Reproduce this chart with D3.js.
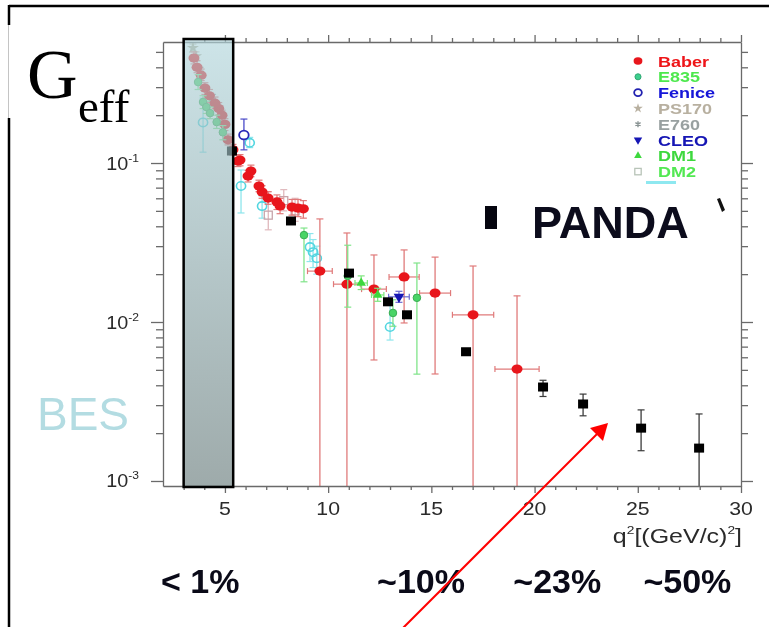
<!DOCTYPE html>
<html>
<head>
<meta charset="utf-8">
<script src="https://d3js.org/d3.v7.min.js"></script>
<style>
  html, body { margin: 0; padding: 0; background: #fff; }
  svg { display: block; }
  text { font-family: "Liberation Sans", Arial, Helvetica, sans-serif; }
</style>
</head>
<body>
<svg id="chart" width="769" height="627"></svg>
<script>
// ---------------- data ----------------
const xMajorTicks = [5, 10, 15, 20, 25, 30];
const yMajorTicks = [0.001, 0.01, 0.1];
const yTickExponents = ["-3", "-2", "-1"];

// BaBar
const babarQ2 = [3.50, 3.65, 3.85, 4.03, 4.25, 4.52, 4.70, 4.86, 5.00, 5.15, 5.39, 5.63, 5.73, 6.12, 6.26,
                 6.65, 6.80, 7.09, 7.52, 7.67, 8.25, 8.54, 8.80, 9.60, 10.91, 12.22, 13.68, 15.18, 17.02, 19.15];
const babarG  = [0.457, 0.400, 0.357, 0.296, 0.265, 0.238, 0.220, 0.200, 0.175, 0.140, 0.121, 0.103, 0.1044, 0.0828, 0.0890,
                 0.0717, 0.0657, 0.0602, 0.0569, 0.0537, 0.0528, 0.0521, 0.0515, 0.0209, 0.0173, 0.0161, 0.0192, 0.0152, 0.0111, 0.00506];
const babarLo = [0.42, 0.37, 0.33, 0.27, 0.24, 0.22, 0.20, 0.185, 0.16, 0.13, 0.112, 0.095, 0.096, 0.076, 0.082,
                 0.066, 0.060, 0.055, 0.051, 0.048, 0.047, 0.046, 0.045, 0.0005, 0.0005, 0.00577, 0.00986, 0.00471, 0.0005, 0.0005];
const babarHi = [0.50, 0.44, 0.39, 0.32, 0.29, 0.26, 0.24, 0.215, 0.19, 0.152, 0.131, 0.112, 0.113, 0.090, 0.097,
                 0.078, 0.072, 0.066, 0.063, 0.060, 0.059, 0.059, 0.058, 0.0445, 0.0363, 0.0264, 0.0284, 0.0256, 0.0225, 0.0146];
const babarDq = [0.08, 0.08, 0.08, 0.08, 0.08, 0.08, 0.08, 0.08, 0.08, 0.08, 0.08, 0.10, 0.10, 0.10, 0.10,
                 0.10, 0.10, 0.10, 0.15, 0.15, 0.15, 0.15, 0.15, 0.60, 0.65, 0.60, 0.73, 0.75, 1.00, 1.07];

// E835
const e835Q2 = [3.70, 3.94, 4.10, 4.28, 4.60, 4.90, 8.83, 10.95, 13.14, 14.30];
const e835G  = [0.323, 0.242, 0.225, 0.206, 0.181, 0.156, 0.0352, 0.0195, 0.0114, 0.0142];
const e835Lo = [0.29, 0.22, 0.205, 0.19, 0.165, 0.14, 0.0179, 0.0124, 0.0094, 0.0047];
const e835Hi = [0.36, 0.265, 0.245, 0.225, 0.20, 0.172, 0.039, 0.0304, 0.0138, 0.0235];

// further time-like measurements (cyan open circles)
const cyanQ2 = [3.94, 5.78, 6.20, 6.80, 9.12, 9.27, 9.45, 13.00];
const cyanG  = [0.180, 0.0717, 0.134, 0.0536, 0.0296, 0.0275, 0.0252, 0.0093];
const cyanLo = [0.117, 0.0485, 0.125, 0.045, 0.024, 0.022, 0.020, 0.0077];
const cyanHi = [0.256, 0.0904, 0.145, 0.062, 0.036, 0.033, 0.030, 0.0137];

// Fenice
const feniceQ2 = [5.92];
const feniceG  = [0.150];
const feniceLo = [0.121];
const feniceHi = [0.189];

// PS170
const ps170Q2 = [3.45, 3.60];
const ps170G  = [0.53, 0.47];
const ps170Lo = [0.50, 0.44];
const ps170Hi = [0.56, 0.50];

// E760
const e760Q2 = [3.80, 4.40];
const e760G  = [0.37, 0.25];
const e760Lo = [0.34, 0.23];
const e760Hi = [0.40, 0.27];

// CLEO
const cleoQ2 = [13.43];
const cleoG  = [0.0144];
const cleoLo = [0.0133];
const cleoHi = [0.0156];
const cleoDq = [0.5];

// DM1
const dm1Q2 = [11.60, 12.40];
const dm1G  = [0.0176, 0.0148];
const dm1Lo = [0.0160, 0.0135];
const dm1Hi = [0.0195, 0.0163];
const dm1Dq = [0.3, 0.3];

// DM2
const dm2Q2 = [7.10, 7.85, 8.40];
const dm2G  = [0.047, 0.058, 0.050];
const dm2Lo = [0.038, 0.050, 0.043];
const dm2Hi = [0.066, 0.068, 0.060];

// PANDA projection
const pandaQ2 = [5.34, 8.20, 11.01, 12.90, 13.82, 16.68, 20.41, 22.35, 25.16, 27.97];
const pandaG  = [0.119, 0.0432, 0.0203, 0.0134, 0.0111, 0.0065, 0.0039, 0.00305, 0.00215, 0.00161];
const pandaLo = [0.119, 0.0432, 0.0203, 0.0134, 0.0111, 0.0065, 0.0034, 0.00257, 0.00155, 0.0005];
const pandaHi = [0.119, 0.0432, 0.0203, 0.0134, 0.0111, 0.0065, 0.0043, 0.00352, 0.0028, 0.00264];

// BES coverage band (q² range)
const besRange = [3.0, 5.4];

// precision estimates along q²
const percentLabels = ["< 1%", "~10%", "~23%", "~50%"];
const percentQ2 = [3.8, 14.5, 21.1, 27.4];

// legend
const legendNames  = ["Baber", "E835", "Fenice", "PS170", "E760", "CLEO", "DM1", "DM2"];
const legendColors = ["#ee1418", "#4ee84e", "#1414d8", "#b8b0a0", "#98a0a0", "#1414b4", "#3ed83e", "#52e852"];
const legendShapes = ["disc", "dot", "ring", "star", "aster", "dtri", "tri", "osquare"];
const legendMarkColors = ["#e8141c", "#3ccf8e", "#2020b0", "#b8b0a0", "#8a9494", "#1414b4", "#3ed83e", "#b8c4b8"];

// ---------------- chart ----------------
const svg = d3.select("#chart");
const x = d3.scaleLinear().domain([2, 30]).range([163, 741]);
const y = d3.scaleLog().domain([0.00093, 0.577]).range([486, 42]);
const [x0, x1] = x.range();
const [y1, y0] = y.range();

const defs = svg.append("defs");
defs.append("filter").attr("id", "soft")
  .attr("x", "-5%").attr("y", "-5%").attr("width", "110%").attr("height", "110%")
  .append("feGaussianBlur").attr("stdDeviation", 0.55);
defs.append("clipPath").attr("id", "plotClip")
  .append("rect").attr("x", x0).attr("y", y0).attr("width", x1 - x0).attr("height", y1 - y0);
const grad = defs.append("linearGradient").attr("id", "besFill")
  .attr("x1", 0).attr("y1", 0).attr("x2", 0).attr("y2", 1);
grad.append("stop").attr("offset", "0%").attr("stop-color", "#b2d6dc");
grad.append("stop").attr("offset", "100%").attr("stop-color", "#6a7d7d");

const plot = svg.append("g").attr("filter", "url(#soft)");

// markers
function drawMarker(sel, shape, color, s = 1) {
  switch (shape) {
    case "disc":
      sel.append("ellipse").attr("rx", 5.5 * s).attr("ry", 4.6 * s).attr("fill", color);
      break;
    case "dot":
      sel.append("circle").attr("r", 3.8 * s).attr("fill", color).attr("stroke", d3.color(color).darker(0.6)).attr("stroke-width", 1);
      break;
    case "ring":
      sel.append("ellipse").attr("rx", 4.8 * s).attr("ry", 4.4 * s).attr("fill", "#fff").attr("stroke", color).attr("stroke-width", 1.8);
      break;
    case "oring":
      sel.append("ellipse").attr("rx", 4.6 * s).attr("ry", 4.2 * s).attr("fill", "none").attr("stroke", color).attr("stroke-width", 1.6);
      break;
    case "square":
      sel.append("rect").attr("x", -5 * s).attr("y", -4.5 * s).attr("width", 10 * s).attr("height", 9 * s).attr("fill", color);
      break;
    case "osquare":
      sel.append("rect").attr("x", -4 * s).attr("y", -4 * s).attr("width", 8 * s).attr("height", 8 * s)
        .attr("fill", "none").attr("stroke", color).attr("stroke-width", 1.3);
      break;
    case "tri":
      sel.append("path").attr("d", d3.symbol(d3.symbolTriangle, 40 * s * s)()).attr("fill", color);
      break;
    case "dtri":
      sel.append("path").attr("d", d3.symbol(d3.symbolTriangle, 48 * s * s)()).attr("transform", "rotate(180)").attr("fill", color);
      break;
    case "star":
      sel.append("path").attr("d", d3.symbol(d3.symbolStar, 45 * s * s)()).attr("fill", color);
      break;
    case "aster":
      sel.append("path").attr("d", d3.symbol(d3.symbolAsterisk, 40 * s * s)()).attr("fill", "none").attr("stroke", color).attr("stroke-width", 1.4);
      break;
  }
}

const seriesList = [
  { q: cyanQ2,   g: cyanG,   lo: cyanLo,   hi: cyanHi,   dq: null,    shape: "oring",   color: "#52d6e0", bar: "#8ee6ec" },
  { q: dm2Q2,    g: dm2G,    lo: dm2Lo,    hi: dm2Hi,    dq: null,    shape: "osquare", color: "#c8a4aa", bar: "#e0b8bc" },
  { q: ps170Q2,  g: ps170G,  lo: ps170Lo,  hi: ps170Hi,  dq: null,    shape: "star",    color: "#b0a890", bar: "#c8c0b0" },
  { q: e760Q2,   g: e760G,   lo: e760Lo,   hi: e760Hi,   dq: null,    shape: "aster",   color: "#8a9494", bar: "#a8b0b0" },
  { q: babarQ2,  g: babarG,  lo: babarLo,  hi: babarHi,  dq: babarDq, shape: "disc",    color: "#e8141c", bar: "#e07a7a" },
  { q: e835Q2,   g: e835G,   lo: e835Lo,   hi: e835Hi,   dq: null,    shape: "dot",     color: "#48d466", bar: "#80e48a" },
  { q: dm1Q2,    g: dm1G,    lo: dm1Lo,    hi: dm1Hi,    dq: dm1Dq,   shape: "tri",     color: "#3ed83e", bar: "#7ee67e" },
  { q: feniceQ2, g: feniceG, lo: feniceLo, hi: feniceHi, dq: null,    shape: "ring",    color: "#2a2ab8", bar: "#4a4ac8" },
  { q: cleoQ2,   g: cleoG,   lo: cleoLo,   hi: cleoHi,   dq: cleoDq,  shape: "dtri",    color: "#1414b4", bar: "#6a6ad0" },
  { q: pandaQ2,  g: pandaG,  lo: pandaLo,  hi: pandaHi,  dq: null,    shape: "square",  color: "#000000", bar: "#3a3a3a" }
];

const dataG = plot.append("g").attr("clip-path", "url(#plotClip)");
seriesList.forEach(s => {
  const pts = s.q.map((q, i) => ({ q, g: s.g[i], lo: s.lo[i], hi: s.hi[i], dq: s.dq ? s.dq[i] : 0 }));
  const sg = dataG.append("g");
  // vertical error bars with caps
  pts.filter(d => d.hi > d.lo).forEach(d => {
    const cx = x(d.q);
    sg.append("line").attr("x1", cx).attr("x2", cx).attr("y1", y(d.hi)).attr("y2", y(d.lo))
      .attr("stroke", s.bar).attr("stroke-width", 1.3);
    [d.hi, d.lo].forEach(v => {
      sg.append("line").attr("x1", cx - 3.5).attr("x2", cx + 3.5).attr("y1", y(v)).attr("y2", y(v))
        .attr("stroke", s.bar).attr("stroke-width", 1.2);
    });
  });
  // horizontal error bars
  pts.filter(d => d.dq > 0).forEach(d => {
    const cy = y(d.g);
    sg.append("line").attr("x1", x(d.q - d.dq)).attr("x2", x(d.q + d.dq)).attr("y1", cy).attr("y2", cy)
      .attr("stroke", s.bar).attr("stroke-width", 1.2);
    [d.q - d.dq, d.q + d.dq].forEach(v => {
      sg.append("line").attr("x1", x(v)).attr("x2", x(v)).attr("y1", cy - 3).attr("y2", cy + 3)
        .attr("stroke", s.bar).attr("stroke-width", 1.2);
    });
  });
  pts.forEach(d => {
    const m = sg.append("g").attr("transform", `translate(${x(d.q)},${y(d.g)})`);
    drawMarker(m, s.shape, s.color);
  });
});

// axes
function styleAxis(g) {
  g.selectAll("line, path").attr("stroke", "#6a6a6a").attr("stroke-width", 1.3);
}
const xMinor = d3.range(3, 30).filter(v => v % 5 !== 0);
const yMinor = [];
[0.001, 0.01, 0.1].forEach(dec => { for (let m = 2; m <= 9; m++) { const v = dec * m; if (v < y.domain()[1]) yMinor.push(v); } });

const axes = plot.append("g");
axes.append("g").attr("transform", `translate(0,${y1})`)
  .call(d3.axisBottom(x).tickValues(xMajorTicks).tickSize(7).tickSizeOuter(0).tickFormat("")).call(styleAxis);
axes.append("g").attr("transform", `translate(0,${y1})`)
  .call(d3.axisBottom(x).tickValues(xMinor).tickSize(4).tickFormat("")).call(g => g.select(".domain").remove()).call(styleAxis);
axes.append("g").attr("transform", `translate(0,${y0})`)
  .call(d3.axisTop(x).tickValues(xMajorTicks).tickSize(7).tickSizeOuter(0).tickFormat("")).call(styleAxis);
axes.append("g").attr("transform", `translate(0,${y0})`)
  .call(d3.axisTop(x).tickValues(xMinor).tickSize(4).tickFormat("")).call(g => g.select(".domain").remove()).call(styleAxis);
axes.append("g").attr("transform", `translate(${x0},0)`)
  .call(d3.axisLeft(y).tickValues(yMajorTicks).tickSize(12).tickSizeOuter(0).tickFormat("")).call(styleAxis);
axes.append("g").attr("transform", `translate(${x0},0)`)
  .call(d3.axisLeft(y).tickValues(yMinor).tickSize(7).tickFormat("")).call(g => g.select(".domain").remove()).call(styleAxis);
axes.append("g").attr("transform", `translate(${x1},0)`)
  .call(d3.axisRight(y).tickValues(yMajorTicks).tickSize(12).tickSizeOuter(0).tickFormat("")).call(styleAxis);
axes.append("g").attr("transform", `translate(${x1},0)`)
  .call(d3.axisRight(y).tickValues(yMinor).tickSize(7).tickFormat("")).call(g => g.select(".domain").remove()).call(styleAxis);

// tick labels
xMajorTicks.forEach(v => {
  axes.append("g").attr("transform", `translate(${x(v)},${y1 + 29}) scale(1.12,1)`)
    .append("text").attr("text-anchor", "middle").attr("font-size", 19).attr("fill", "#2a2a2a").text(v);
});
yMajorTicks.forEach((v, i) => {
  const t = axes.append("g").attr("transform", `translate(139,${y(v) + 6.5}) scale(1.1,1)`)
    .append("text").attr("text-anchor", "end").attr("fill", "#2a2a2a");
  t.append("tspan").attr("font-size", 18).text("10");
  t.append("tspan").attr("font-size", 11).attr("dy", -8).text(yTickExponents[i]);
});

// axis title
const xt = axes.append("g").attr("transform", `translate(${x1 + 1},543) scale(1.25,1)`)
  .append("text").attr("text-anchor", "end").attr("fill", "#2a2a2a").attr("font-size", 20);
xt.append("tspan").text("q");
xt.append("tspan").attr("font-size", 11).attr("dy", -9).text("2");
xt.append("tspan").attr("dy", 9).text("[(GeV/c)");
xt.append("tspan").attr("font-size", 11).attr("dy", -9).text("2");
xt.append("tspan").attr("dy", 9).text("]");

// legend
const leg = plot.append("g");
legendNames.forEach((name, i) => {
  const ly = 61 + i * 15.8;
  const m = leg.append("g").attr("transform", `translate(638,${ly})`);
  drawMarker(m, legendShapes[i], legendMarkColors[i], 0.8);
  leg.append("g").attr("transform", `translate(658,${ly + 5.5}) scale(1.2,1)`)
    .append("text").attr("font-size", 15).attr("font-weight", "bold").attr("fill", legendColors[i]).text(name);
});
leg.append("rect").attr("x", 646).attr("y", 181).attr("width", 30).attr("height", 3).attr("fill", "#8ee8f0");

// BES coverage band, laid over the low-q² data
svg.append("rect")
  .attr("x", x(besRange[0])).attr("y", y0 - 3)
  .attr("width", x(besRange[1]) - x(besRange[0])).attr("height", y1 - y0 + 4)
  .attr("fill", "url(#besFill)").attr("fill-opacity", 0.65)
  .attr("stroke", "#000").attr("stroke-width", 2.5);

// outer frame
svg.append("line").attr("x1", 9).attr("x2", 769).attr("y1", 6).attr("y2", 6).attr("stroke", "#000").attr("stroke-width", 2.5);
svg.append("line").attr("x1", 9).attr("x2", 9).attr("y1", 5).attr("y2", 25).attr("stroke", "#000").attr("stroke-width", 2.5);
svg.append("line").attr("x1", 9).attr("x2", 9).attr("y1", 118).attr("y2", 627).attr("stroke", "#000").attr("stroke-width", 2.5);
svg.append("line").attr("x1", 8.5).attr("x2", 8.5).attr("y1", 25).attr("y2", 118).attr("stroke", "#c4c4c4").attr("stroke-width", 1);

// G_eff
const ge = svg.append("text").attr("fill", "#000").style("font-family", "'Liberation Serif', 'Times New Roman', serif");
ge.append("tspan").attr("x", 27).attr("y", 98).attr("font-size", 70).text("G");
ge.append("tspan").attr("x", 78).attr("y", 122).attr("font-size", 47).text("eff");

// BES label
svg.append("text").attr("x", 37).attr("y", 430).attr("font-size", 46).attr("fill", "#b3dce2").text("BES");

// PANDA label
svg.append("rect").attr("x", 485).attr("y", 206).attr("width", 12).attr("height", 23).attr("fill", "#05050f");
svg.append("text").attr("x", 532).attr("y", 238).attr("font-size", 45).attr("font-weight", "bold").attr("fill", "#0c0c1c").text("PANDA");
svg.append("path").attr("d", "M717,199 L720,198 L725,210 L722,212 Z").attr("fill", "#111");

// precision labels
percentLabels.forEach((t, i) => {
  svg.append("text").attr("x", x(percentQ2[i])).attr("y", 593).attr("text-anchor", "middle")
    .attr("font-size", 34).attr("font-weight", "bold").attr("fill", "#0a0a18").text(t);
});

// arrow
const tip = [608, 423];
svg.append("line").attr("x1", 402).attr("y1", 629).attr("x2", 598).attr("y2", 433)
  .attr("stroke", "#ff0000").attr("stroke-width", 2);
svg.append("path").attr("d", `M${tip[0]},${tip[1]} L603,441 L590,428 Z`).attr("fill", "#ff0000");
</script>
</body>
</html>
